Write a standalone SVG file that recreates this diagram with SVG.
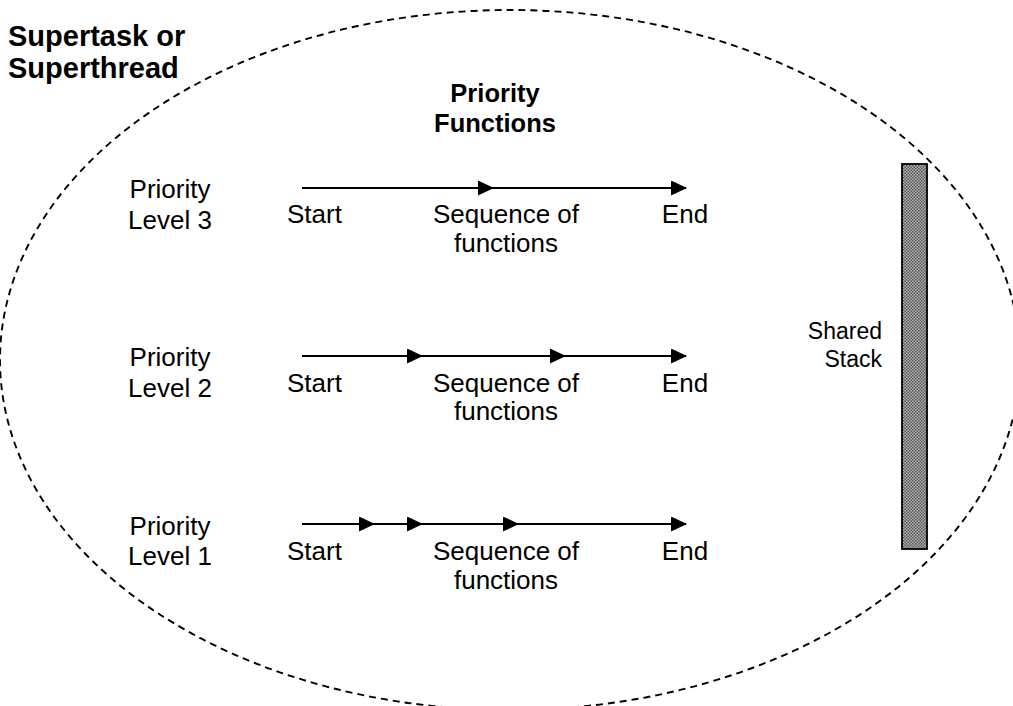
<svg xmlns="http://www.w3.org/2000/svg" width="1013" height="706" viewBox="0 0 1013 706">
<style>
text{font-family:"Liberation Sans",Arial,sans-serif;fill:#000}
.b{font-weight:bold}
.r{font-size:26px}
.m{text-anchor:middle}
.ln{stroke:#000;stroke-width:1.8;fill:none}
</style>
<defs>
<marker id="ah" markerUnits="userSpaceOnUse" markerWidth="16" markerHeight="15" viewBox="0 0 16 15" refX="15" refY="7.5" orient="auto">
<path d="M0,0 L16,7.5 L0,15 Z" fill="#000"/>
</marker>
<pattern id="dots" width="3" height="3" patternUnits="userSpaceOnUse">
<rect width="3" height="3" fill="#b4b4b4"/>
<rect width="1.5" height="1.5" fill="#555"/>
<rect x="1.5" y="1.5" width="1.5" height="1.5" fill="#555"/>
</pattern>
</defs>
<rect width="1013" height="706" fill="#fff"/>
<g id="supertask">
<ellipse cx="510" cy="360" rx="510" ry="350" fill="none" stroke="#000" stroke-width="1.9" stroke-dasharray="7 5"/>
<text class="b" x="8" y="46" font-size="29">Supertask or</text>
<text class="b" x="8" y="78" font-size="29">Superthread</text>
</g>
<g id="priority-functions">
<text class="b m" x="495" y="102" font-size="25.5">Priority</text>
<text class="b m" x="495" y="132" font-size="25.5">Functions</text>
</g>
<g id="level3">
<text class="r m" x="170" y="198">Priority</text>
<text class="r m" x="170" y="229">Level 3</text>
<text class="r" x="287" y="223">Start</text>
<text class="r m" x="506" y="223">Sequence of</text>
<text class="r m" x="506" y="252">functions</text>
<text class="r m" x="685" y="223">End</text>
</g>
<g id="level2">
<text class="r m" x="170" y="366">Priority</text>
<text class="r m" x="170" y="397">Level 2</text>
<text class="r" x="287" y="392">Start</text>
<text class="r m" x="506" y="392">Sequence of</text>
<text class="r m" x="506" y="420">functions</text>
<text class="r m" x="685" y="392">End</text>
</g>
<g id="level1">
<text class="r m" x="170" y="535">Priority</text>
<text class="r m" x="170" y="565">Level 1</text>
<text class="r" x="287" y="560">Start</text>
<text class="r m" x="506" y="560">Sequence of</text>
<text class="r m" x="506" y="589">functions</text>
<text class="r m" x="685" y="560">End</text>
</g>
<g id="shared-stack">
<rect x="902" y="164" width="25" height="385" fill="url(#dots)" stroke="#000" stroke-width="1.8"/>
<text x="882" y="339" font-size="23" text-anchor="end">Shared</text>
<text x="882" y="367" font-size="23" text-anchor="end">Stack</text>
</g>
<g id="connectors">
<line class="ln" x1="302" y1="188" x2="493" y2="188" marker-end="url(#ah)"/>
<line class="ln" x1="493" y1="188" x2="686" y2="188" marker-end="url(#ah)"/>
<line class="ln" x1="302" y1="356" x2="422" y2="356" marker-end="url(#ah)"/>
<line class="ln" x1="422" y1="356" x2="565" y2="356" marker-end="url(#ah)"/>
<line class="ln" x1="565" y1="356" x2="686" y2="356" marker-end="url(#ah)"/>
<line class="ln" x1="302" y1="524" x2="374" y2="524" marker-end="url(#ah)"/>
<line class="ln" x1="374" y1="524" x2="422" y2="524" marker-end="url(#ah)"/>
<line class="ln" x1="422" y1="524" x2="518" y2="524" marker-end="url(#ah)"/>
<line class="ln" x1="518" y1="524" x2="686" y2="524" marker-end="url(#ah)"/>
</g>
</svg>
